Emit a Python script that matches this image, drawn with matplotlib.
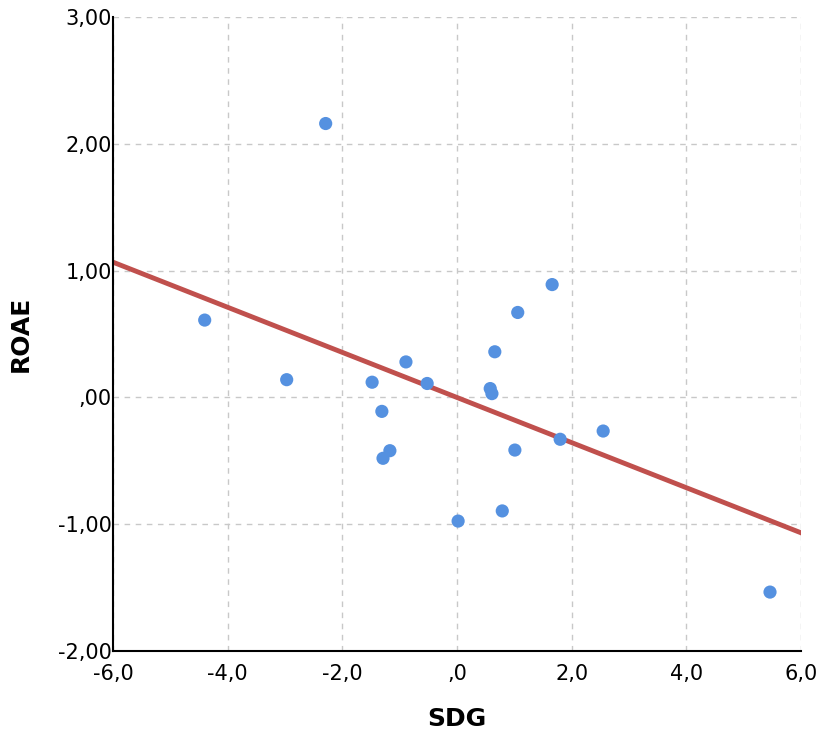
import numpy as np
import matplotlib.pyplot as plt
from matplotlib.ticker import FuncFormatter

sdg = [-4.40, -2.29, -2.97, -1.48, -0.89, -0.52, -1.31, -1.17, -1.29, 0.02,
       0.58, 0.61, 0.66, 1.06, 1.66, 1.01, 0.79, 1.80, 2.55, 5.46]
roae = [0.61, 2.16, 0.14, 0.12, 0.28, 0.11, -0.11, -0.42, -0.48, -0.975,
        0.07, 0.03, 0.36, 0.67, 0.89, -0.415, -0.895, -0.33, -0.265, -1.535]

x = np.array(sdg)
y = np.array(roae)
slope, intercept = np.polyfit(x, y, 1)

def fmt(v, decimals):
    s = f'{v:.{decimals}f}'.replace('.', ',')
    if s.startswith('0,'):
        s = s[1:]
    elif s.startswith('-0,') and float(v) == 0:
        s = s[2:]
    return s

fig = plt.figure(figsize=(8.21, 7.33), dpi=100)
ax = fig.add_axes([0.1376, 0.1118, 0.838, 0.865])

ax.grid(True, color='#c8c8c8', linestyle=(0, (4, 4)), linewidth=1)
ax.set_axisbelow(True)

xs = np.array([-6, 6])
ax.plot(xs, intercept + slope * xs, color='#c0504d', linewidth=3.5, zorder=2)
ax.scatter(x, y, s=90, color='#5591e0', edgecolors='none', zorder=3)

ax.set_xlim(-6, 6)
ax.set_ylim(-2, 3)
ax.set_xticks(np.arange(-6, 7, 2))
ax.set_yticks(np.arange(-2, 4, 1))
ax.xaxis.set_major_formatter(FuncFormatter(lambda v, p: fmt(v, 1)))
ax.yaxis.set_major_formatter(FuncFormatter(lambda v, p: fmt(v, 2)))
ax.tick_params(length=0, labelsize=15, colors='black')
ax.tick_params(axis='x', pad=9)
ax.tick_params(axis='y', pad=1)

for s in ['top', 'right']:
    ax.spines[s].set_visible(False)
for s in ['left', 'bottom']:
    ax.spines[s].set_linewidth(1.5)

ax.set_xlabel('SDG', fontsize=18, fontweight='bold', labelpad=17)
ax.set_ylabel('ROAE', fontsize=18, fontweight='bold', labelpad=18)

fig.savefig('out.png', dpi=100)
